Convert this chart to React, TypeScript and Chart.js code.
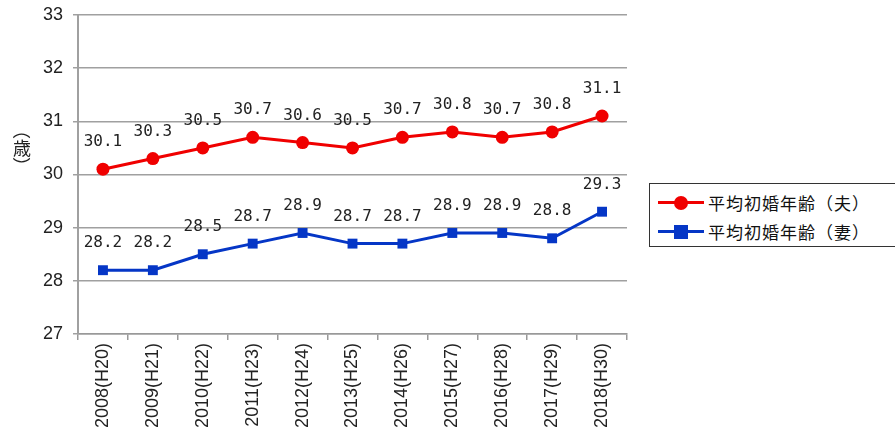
import React, { useEffect, useRef } from "react";
import { Chart, registerables } from "chart.js";

Chart.register(...registerables);

const categories = [
  "2008(H20)", "2009(H21)", "2010(H22)", "2011(H23)", "2012(H24)", "2013(H25)",
  "2014(H26)", "2015(H27)", "2016(H28)", "2017(H29)", "2018(H30)",
];
const husbandAge = [30.1, 30.3, 30.5, 30.7, 30.6, 30.5, 30.7, 30.8, 30.7, 30.8, 31.1];
const wifeAge = [28.2, 28.2, 28.5, 28.7, 28.9, 28.7, 28.7, 28.9, 28.9, 28.8, 29.3];
const husbandLabel = "平均初婚年齢（夫）";
const wifeLabel = "平均初婚年齢（妻）";
const yAxisTitle = "（歳）";

const RED = "#f00000";
const BLUE = "#0536c6";

const labelPlugin = {
  id: "pointLabels",
  afterDatasetsDraw(chart: any) {
    const ctx = chart.ctx;
    ctx.save();
    ctx.font = "16px 'DejaVu Sans Mono'";
    ctx.fillStyle = "#222";
    ctx.textAlign = "center";
    ctx.textBaseline = "middle";
    chart.data.datasets.forEach((ds: any, i: number) => {
      const meta = chart.getDatasetMeta(i);
      meta.data.forEach((pt: any, j: number) => {
        ctx.fillText(Number(ds.data[j]).toFixed(1), pt.x, pt.y - 27);
      });
    });
    ctx.restore();
  },
};

// vertical y-axis title: CJK upright, full-width brackets rotated
const verticalTitlePlugin = {
  id: "verticalTitle",
  afterDraw(chart: any) {
    const ctx = chart.ctx;
    const size = 18;
    const cx = 22;
    let y = 121;
    ctx.save();
    ctx.font = `${size}px 'Noto Sans CJK JP'`;
    ctx.fillStyle = "#222";
    ctx.textAlign = "center";
    ctx.textBaseline = "middle";
    for (const ch of Array.from(yAxisTitle)) {
      const cy = y + size / 2;
      if (ch === "（" || ch === "）") {
        ctx.save();
        ctx.translate(cx, cy);
        ctx.rotate(Math.PI / 2);
        ctx.fillText(ch, 0, 0);
        ctx.restore();
      } else {
        ctx.fillText(ch, cx, cy);
      }
      y += size;
    }
    ctx.restore();
  },
};

export default function App() {
  const ref = useRef<HTMLCanvasElement>(null);
  useEffect(() => {
    if (!ref.current) return;
    const chart = new Chart(ref.current, {
      type: "line",
      data: {
        labels: categories,
        datasets: [
          {
            label: husbandLabel,
            data: husbandAge,
            borderColor: RED,
            backgroundColor: RED,
            borderWidth: 3,
            pointStyle: "circle",
            pointRadius: 6.5,
            pointBorderWidth: 0,
          },
          {
            label: wifeLabel,
            data: wifeAge,
            borderColor: BLUE,
            backgroundColor: BLUE,
            borderWidth: 3,
            pointStyle: "rect",
            pointRadius: 7,
            pointBorderWidth: 0,
          },
        ],
      },
      options: {
        animation: false,
        responsive: false,
        maintainAspectRatio: false,
        layout: { padding: { top: 15, right: 13, left: 0, bottom: 0 } },
        plugins: { legend: { display: false }, tooltip: { enabled: false } },
        scales: {
          x: {
            offset: true,
            grid: {
              display: true,
              drawOnChartArea: false,
              drawTicks: true,
              tickLength: 6,
              offset: true,
              color: "#999",
              lineWidth: 1.5,
            },
            border: { display: true, color: "#999", width: 1.5 },
            ticks: {
              autoSkip: false,
              maxRotation: 90,
              minRotation: 90,
              padding: 3,
              color: "#222",
              font: { family: "'Liberation Sans', Arial", size: 18 },
            },
            afterFit: (s: any) => {
              s.height = 110;
              s.paddingLeft = 0;
              s.paddingRight = 0;
            },
          },
          y: {
            min: 27,
            max: 33,
            ticks: {
              stepSize: 1,
              padding: 10,
              color: "#222",
              font: { family: "'Liberation Sans', Arial", size: 18 },
            },
            grid: { color: "#a0a0a0", lineWidth: 1.5, tickLength: 5 },
            border: { display: true, color: "#a0a0a0", width: 2 },
            afterFit: (s: any) => {
              s.width = 78;
              s.paddingTop = 0;
              s.paddingBottom = 0;
            },
          },
        },
      },
      plugins: [labelPlugin, verticalTitlePlugin],
    });
    return () => chart.destroy();
  }, []);

  const legendRow = (color: string, marker: "circle" | "rect", text: string) => (
    <div style={{ display: "flex", alignItems: "center", height: 29 }}>
      <div style={{ position: "relative", width: 46, height: 14, marginRight: 4 }}>
        <div style={{ position: "absolute", left: 0, right: 0, top: 5.5, height: 3, background: color }} />
        <div
          style={{
            position: "absolute",
            left: 16,
            top: 0,
            width: 14,
            height: 14,
            background: color,
            borderRadius: marker === "circle" ? "50%" : 0,
          }}
        />
      </div>
      <span style={{ fontSize: 17, letterSpacing: 1, color: "#111" }}>{text}</span>
    </div>
  );

  return (
    <div
      style={{
        position: "fixed",
        left: 0,
        top: 0,
        width: 895,
        height: 444,
        background: "#fff",
        overflow: "hidden",
        fontFamily: "'Noto Sans CJK JP', 'Noto Sans', sans-serif",
      }}
    >
      <canvas ref={ref} width={640} height={444} style={{ position: "absolute", left: 0, top: 0, width: 640, height: 444 }} />
      <div
        style={{
          position: "absolute",
          left: 649,
          top: 183,
          width: 300,
          height: 64,
          border: "1px solid #333",
          boxSizing: "border-box",
          padding: "4px 0 0 8px",
        }}
      >
        {legendRow(RED, "circle", husbandLabel)}
        {legendRow(BLUE, "rect", wifeLabel)}
      </div>
    </div>
  );
}
